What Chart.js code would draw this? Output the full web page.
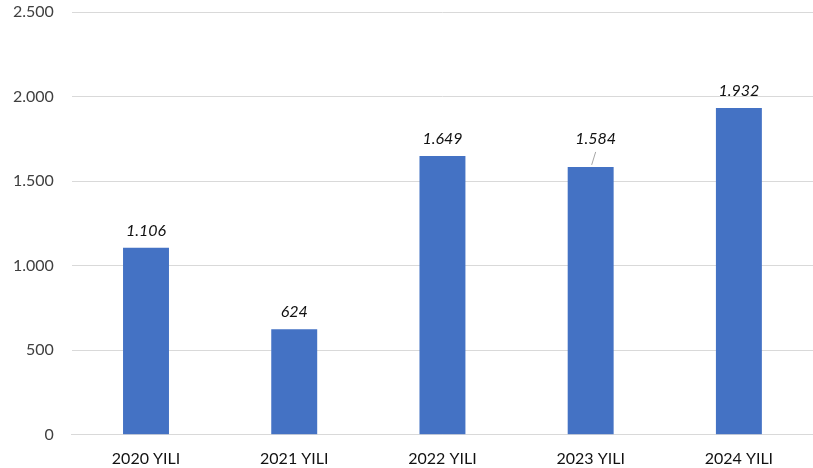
<!DOCTYPE html>
<html>
<head>
<meta charset="utf-8">
<script src="https://cdn.jsdelivr.net/npm/chart.js@4/dist/chart.umd.min.js"></script>
<style>
html,body{margin:0;padding:0;background:#fff;}
#wrap{width:813px;height:468px;}
</style>
</head>
<body>
<div id="wrap"><canvas id="c" width="813" height="468"></canvas></div>
<script>
const categories = ["2020 YILI", "2021 YILI", "2022 YILI", "2023 YILI", "2024 YILI"];
const values = [1106, 624, 1649, 1584, 1932];
const yTicks = [0, 500, 1000, 1500, 2000, 2500];

const fmt = v => v.toLocaleString('tr-TR');

const labelPlugin = {
  id: 'valueLabels',
  afterDatasetsDraw(chart) {
    const ctx = chart.ctx;
    const meta = chart.getDatasetMeta(0);
    ctx.save();
    ctx.font = 'italic 16px Lato, "Open Sans", sans-serif';
    ctx.fillStyle = '#111111';
    ctx.textAlign = 'center';
    ctx.textBaseline = 'middle';
    meta.data.forEach((bar, i) => {
      const v = values[i];
      let x = bar.x, y = bar.y - 17;
      if (i === 3) {
        x = bar.x + 5; y = bar.y - 28;
        ctx.strokeStyle = '#a6a6a6';
        ctx.lineWidth = 1;
        ctx.beginPath();
        ctx.moveTo(bar.x + 5, bar.y - 15);
        ctx.lineTo(bar.x + 1, bar.y - 2);
        ctx.stroke();
      }
      ctx.fillText(fmt(v), x, y);
    });
    ctx.restore();
  }
};

new Chart(document.getElementById('c'), {
  type: 'bar',
  data: {
    labels: categories,
    datasets: [{
      data: values,
      backgroundColor: '#4472C4',
      barPercentage: 0.31,
      categoryPercentage: 1.0
    }]
  },
  options: {
    responsive: false,
    animation: false,
    plugins: { legend: { display: false }, tooltip: { enabled: false } },
    layout: { padding: { top: 12, right: 0, left: -5, bottom: -6 } },
    scales: {
      x: {
        grid: { display: false },
        border: { display: true, color: '#d9d9d9' },
        ticks: { color: '#111111', font: { size: 16, family: 'Lato, "Open Sans", sans-serif' }, padding: 6 }
      },
      y: {
        min: 0, max: 2500,
        afterBuildTicks: axis => { axis.ticks = yTicks.map(v => ({ value: v })); },
        afterFit: axis => { axis.paddingTop = 0; axis.paddingBottom = 0; },
        grid: { color: '#d9d9d9', drawTicks: false },
        border: { display: false },
        ticks: {
          color: '#404040',
          font: { size: 16, family: 'Lato, "Open Sans", sans-serif' },
          padding: 18,
          callback: v => fmt(v)
        }
      }
    }
  },
  plugins: [labelPlugin]
});
</script>
</body>
</html>
